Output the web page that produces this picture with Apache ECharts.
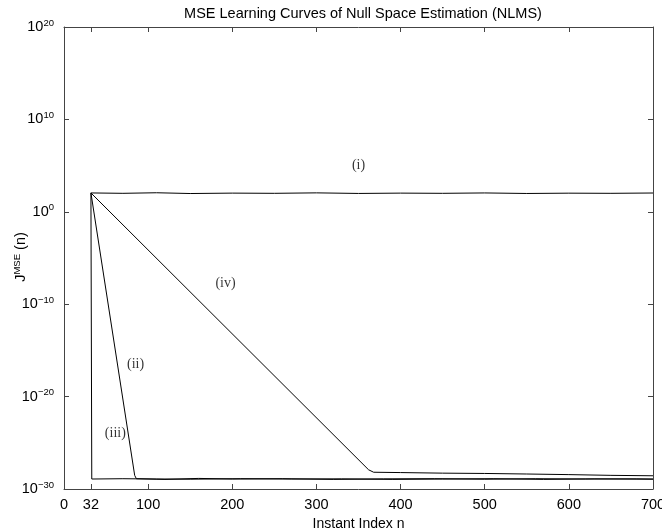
<!DOCTYPE html>
<html>
<head>
<meta charset="utf-8">
<script src="https://cdn.jsdelivr.net/npm/echarts@6/dist/echarts.min.js"></script>
<style>html,body{margin:0;padding:0;background:#fff}#c{width:662px;height:529px}</style>
</head>
<body>
<div id="c"></div>
<script>
// ---- data ----
const titleText = 'MSE Learning Curves of Null Space Estimation (NLMS)';
const xTickValues = [32, 100, 200, 300, 400, 500, 600, 700];
const xLabelValues = [0, 32, 100, 200, 300, 400, 500, 600, 700];
const yTickValues = [1e-30, 1e-20, 1e-10, 1e0, 1e10, 1e20];
// curve (i): stays around 1e2
const curveI = [[32,1.1e2],[70,1.0e2],[110,1.15e2],[150,0.95e2],[200,1.05e2],[250,1.0e2],[300,1.12e2],[350,0.97e2],[400,1.05e2],[450,1.0e2],[500,1.1e2],[550,0.96e2],[600,1.04e2],[650,1.0e2],[700,1.08e2]];
// curve (ii): straight (log) descent, floor near 1e-29
const curveII = [[32,1.1e2],[84,3e-29],[86,1.3e-29],[120,1.1e-29],[160,1.4e-29],[200,1.2e-29],[260,1.3e-29],[320,1.1e-29],[380,1.25e-29],[440,1.3e-29],[500,1.15e-29],[560,1.3e-29],[620,1.2e-29],[680,1.25e-29],[700,1.2e-29]];
// curve (iii): immediate drop at n=32, floor near 1e-29
const curveIII = [[32,1.1e2],[33,1.2e-29],[70,1.3e-29],[110,1.2e-29],[150,1.15e-29],[210,1.3e-29],[270,1.2e-29],[330,1.25e-29],[390,1.1e-29],[450,1.2e-29],[510,1.3e-29],[570,1.1e-29],[630,1.25e-29],[700,1.15e-29]];
// curve (iv): slow descent, floor near 6e-29 easing to 2.7e-29
const curveIV = [[32,1.1e2],[362,1.2e-28],[368,6.5e-29],[400,6e-29],[450,5.2e-29],[500,4.8e-29],[550,4.2e-29],[600,3.6e-29],[650,3.0e-29],[700,2.7e-29]];
// annotation labels [n, J, text]
const annotations = [[350,1e5,'(i)'],[85,3e-17,'(ii)'],[61,1e-24,'(iii)'],[192,2e-8,'(iv)']];

const sans = 'Liberation Sans, Arial, Helvetica, sans-serif';
const axisColor = '#444';
const chart = echarts.init(document.getElementById('c'));

function supLabel(v){
  const e = Math.round(Math.log10(v));
  const s = e < 0 ? '\u2212' + (-e) : String(e);
  return '{b|10}{s|' + s + '}';
}
const labelRich = {
  b:{fontSize:14.5, fontFamily:sans, color:'#000'},
  s:{fontSize:9.5, fontFamily:sans, color:'#000', padding:[0,0,8,0]}
};
const lineSeries = (d) => ({type:'line', data:d, showSymbol:false, symbol:'none', xAxisIndex:0, yAxisIndex:0,
  lineStyle:{color:'#000', width:1}, silent:true, animation:false});

chart.setOption({
  animation:false,
  title:{text:titleText, left:358, top:1, textAlign:'center',
    textStyle:{fontFamily:sans, fontWeight:'normal', fontSize:14.5, color:'#000'}},
  grid:{left:64, right:9, top:27, bottom:40, outerBoundsMode:'none'},
  graphic:[{type:'text', x:21, y:257, rotation:Math.PI/2,
    style:{text:'{b|J}{s|MSE}{b| (n)}', rich:labelRich, align:'center', verticalAlign:'middle'}}],
  xAxis:[
    {type:'value', position:'bottom', min:0, max:700,
     name:'Instant Index n', nameLocation:'middle', nameGap:24,
     nameTextStyle:{fontFamily:sans, fontSize:14, color:'#000'},
     axisLine:{show:true, onZero:false, lineStyle:{color:axisColor, width:1}},
     axisTick:{show:true, inside:true, length:5, customValues:xTickValues, lineStyle:{color:axisColor}},
     axisLabel:{show:true, customValues:xLabelValues, fontFamily:sans, fontSize:14.5, color:'#000', margin:8},
     splitLine:{show:false}},
    {type:'value', position:'top', min:0, max:700,
     axisLine:{show:true, onZero:false, lineStyle:{color:axisColor, width:1}},
     axisTick:{show:true, inside:true, length:5, customValues:xTickValues, lineStyle:{color:axisColor}},
     axisLabel:{show:false}, splitLine:{show:false}}
  ],
  yAxis:[
    {type:'log', logBase:10, position:'left', min:1e-30, max:1e20, splitNumber:5,
     axisLine:{show:true, onZero:false, lineStyle:{color:axisColor, width:1}},
     axisTick:{show:true, inside:true, length:5, customValues:yTickValues, lineStyle:{color:axisColor}},
     axisLabel:{show:true, margin:10, customValues:yTickValues, formatter:supLabel, rich:labelRich, hideOverlap:false},
     splitLine:{show:false}},
    {type:'log', logBase:10, position:'right', min:1e-30, max:1e20, splitNumber:5,
     axisLine:{show:true, onZero:false, lineStyle:{color:axisColor, width:1}},
     axisTick:{show:true, inside:true, length:5, customValues:yTickValues, lineStyle:{color:axisColor}},
     axisLabel:{show:false}, splitLine:{show:false}}
  ],
  series:[
    lineSeries(curveI), lineSeries(curveII), lineSeries(curveIII), lineSeries(curveIV),
    {type:'scatter', data:annotations, xAxisIndex:0, yAxisIndex:0, symbolSize:1, silent:true,
     itemStyle:{color:'rgba(0,0,0,0)'},
     label:{show:true, position:'inside', formatter:p=>p.data[2],
       fontFamily:'Liberation Serif, Times New Roman, serif', fontSize:14, color:'#000'}}
  ]
});
</script>
</body>
</html>
